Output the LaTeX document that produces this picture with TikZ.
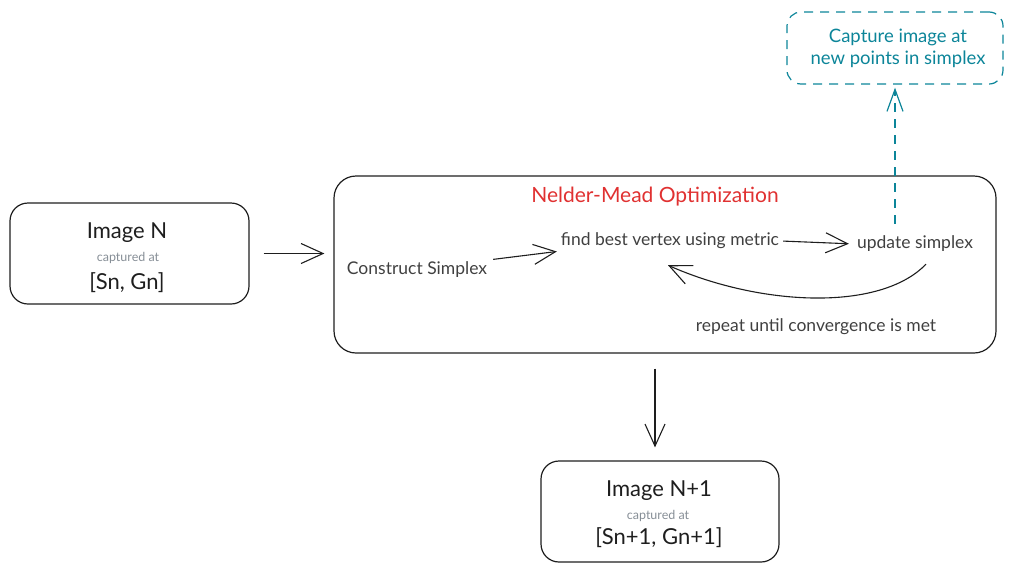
\documentclass[tikz,border=0pt]{standalone}
\usepackage{fontspec}
\setmainfont{Lato}
\usetikzlibrary{arrows.meta}
\definecolor{exred}{HTML}{E03131}
\definecolor{exteal}{HTML}{0C8599}
\definecolor{exgray}{HTML}{868E96}
\definecolor{exink}{HTML}{1E1E1E}
\tikzset{
  box/.style={draw=exink, line width=1.2pt, rounded corners=18pt, minimum width=#1},
  bigfont/.style={font=\fontsize{22}{26}\selectfont, text=exink},
  midfont/.style={font=\fontsize{17.5}{21}\selectfont, text=exink!85},
  smallfont/.style={font=\fontsize{12.5}{15}\selectfont, text=exgray},
  arr/.style={draw=exink, line width=1.1pt, -{Straight Barb[length=22pt,width=20pt,line width=1.1pt]}},
  dasharr/.style={draw=exteal, line width=1.2pt, dash pattern=on 9pt off 7pt, -{Straight Barb[length=22pt,width=16pt,line width=1.2pt]}},
}
\begin{document}
\begin{tikzpicture}[x=1pt,y=-1pt]
\useasboundingbox (0,0) rectangle (1014,571);
% boxes
\node[box=239pt, minimum height=101pt] (img1) at (129.5,253.5) {};
\node[box=662pt, minimum height=177pt, rounded corners=22pt] (nm) at (665,264.5) {};
\node[box=238pt, minimum height=101pt] (img2) at (660,511.5) {};
\node[draw=exteal, line width=1.2pt, dash pattern=on 9pt off 7pt, rounded corners=14pt,
      minimum width=216pt, minimum height=72pt] (capbox) at (895,48) {};
% texts in image N
\node[bigfont] (t1a) at (127,233) {Image N};
\node[smallfont] (t1b) at (128,258) {captured at};
\node[bigfont] (t1c) at (127,283) {[Sn, Gn]};
% texts in image N+1
\node[bigfont] (t2a) at (659,491) {Image N+1};
\node[smallfont] (t2b) at (658,516) {captured at};
\node[bigfont] (t2c) at (659,538) {[Sn+1, Gn+1]};
% inside Nelder-Mead
\node[font=\fontsize{21}{25}\selectfont, text=exred] (title) at (655,197) {Nelder-Mead Optimization};
\node[midfont, inner sep=2pt] (cs) at (417,270) {Construct Simplex};
\node[midfont, inner sep=2pt] (fb) at (670,241) {find best vertex using metric};
\node[midfont, inner sep=2pt] (upd) at (915,244) {update simplex};
\node[midfont] (rep) at (816,327) {repeat until convergence is met};
% capture box text
\node[font=\fontsize{18.5}{22}\selectfont, text=exteal, align=center] (cap) at (898,48) {Capture image at\\new points in simplex};
% connectors
\draw[arr, shorten <=14pt, shorten >=9pt] (img1.east) -- (img1.east -| nm.west);
\draw[arr, shorten <=4pt, shorten >=2pt] (cs.north east) -- (fb.south west);
\draw[arr, shorten <=2pt, shorten >=6pt] (fb.east) -- (upd.west);
\draw[arr] ([xshift=11pt,yshift=-10pt]upd.south) .. controls (880,312) and (760,306) .. ([xshift=-2pt,yshift=-14pt]fb.south);
\draw[dasharr, shorten >=3pt] ([yshift=10pt]upd.north -| capbox.south) -- (capbox.south);
\draw[arr, shorten <=15pt, shorten >=13pt] (nm.south -| 655,0) -- (img2.north -| 655,0);
\end{tikzpicture}
\end{document}
